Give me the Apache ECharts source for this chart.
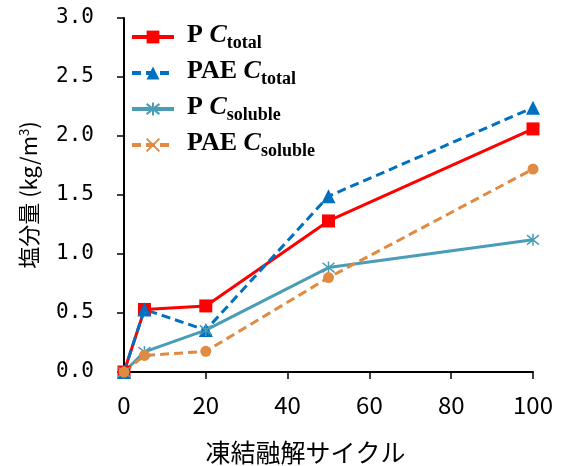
<!DOCTYPE html>
<html><head><meta charset="utf-8">
<script src="https://cdn.jsdelivr.net/npm/echarts@6/dist/echarts.min.js"></script>
<style>html,body{margin:0;padding:0;background:#fff}#c{width:562px;height:466px}</style>
</head><body><div id="c"></div>
<script>
var cycles = [0, 5, 20, 50, 100];
var pTotal = [0, 0.53, 0.56, 1.28, 2.06];
var paeTotal = [0, 0.53, 0.355, 1.49, 2.24];
var pSoluble = [0, 0.17, 0.355, 0.885, 1.12];
var paeSoluble = [0, 0.14, 0.175, 0.80, 1.72];
var xTicks = [0, 20, 40, 60, 80, 100];
var yTicks = [0, 0.5, 1.0, 1.5, 2.0, 2.5, 3.0];

function pairs(ys){ return cycles.map(function(x,i){ return [x, ys[i]]; }); }

var RED='#FF0000', BLUE='#0070C0', TEAL='#4A9DB6', ORANGE='#E08A42';
var starPath='path://M0,-10L0,10M-8,-8L8,8M-8,8L8,-8';
var xPath='path://M-8,-8L8,8M8,-8L-8,8';

var legendText = {
  'P Ctotal': '{p|P }{c|C}{s|total}',
  'PAE Ctotal': '{p|PAE }{c|C}{s|total}',
  'P Csoluble': '{p|P }{c|C}{s|soluble}',
  'PAE Csoluble': '{p|PAE }{c|C}{s|soluble}'
};

var chart = echarts.init(document.getElementById('c'));
chart.setOption({
  animation:false,
  grid:{left:124,right:29,top:18,bottom:94,containLabel:false,outerBoundsMode:'none'},
  legend:{
    orient:'vertical', left:130, top:22, padding:0, itemWidth:42, itemHeight:16, itemGap:6,
    lineStyle:{width:4},
    data:['P Ctotal','PAE Ctotal','P Csoluble','PAE Csoluble'],
    formatter:function(n){ return legendText[n]; },
    textStyle:{
      rich:{
        p:{fontFamily:'Liberation Serif',fontWeight:'bold',fontSize:26,color:'#000',padding:[0,0,0,8],verticalAlign:'top',lineHeight:30},
        c:{fontFamily:'Liberation Serif',fontWeight:'bold',fontStyle:'italic',fontSize:26,color:'#000',verticalAlign:'top',lineHeight:30},
        s:{fontFamily:'Liberation Serif',fontWeight:'bold',fontSize:18,color:'#000',verticalAlign:'bottom',lineHeight:30}
      }
    }
  },
  xAxis:{
    type:'value', min:0, max:100, interval:20,
    name:'凍結融解サイクル', nameLocation:'middle', nameGap:68,
    nameTextStyle:{fontFamily:'Noto Sans CJK JP',fontSize:25,color:'#000',padding:[0,46,0,0]},
    axisLine:{lineStyle:{color:'#000',width:2}},
    axisTick:{show:true,length:7,lineStyle:{color:'#000',width:1.5}},
    axisLabel:{fontFamily:'Noto Sans CJK JP',fontSize:24,color:'#000',margin:21,
      formatter:function(v){ return xTicks.indexOf(v)>=0 ? String(v) : ''; }},
    splitLine:{show:false}
  },
  yAxis:{
    type:'value', min:0, max:3, interval:0.5,
    name:'塩分量 (kg/m{sup|3})', nameLocation:'middle', nameGap:84, nameRotate:90,
    nameTextStyle:{fontFamily:'Noto Sans CJK JP',fontSize:22,color:'#000',
      rich:{sup:{fontFamily:'Noto Sans CJK JP',fontSize:13,color:'#000',verticalAlign:'top',lineHeight:22}}},
    axisLine:{show:true,lineStyle:{color:'#000',width:2}},
    axisTick:{show:true,length:7,lineStyle:{color:'#000',width:1.5}},
    axisLabel:{fontFamily:'DejaVu Sans Mono',fontSize:21,color:'#000',margin:30,
      formatter:function(v){ var t=yTicks.filter(function(k){return Math.abs(k-v)<1e-9;}); return t.length? t[0].toFixed(1):''; }},
    splitLine:{show:false}
  },
  series:[
    {name:'P Ctotal',type:'line',data:pairs(pTotal),symbol:'rect',symbolSize:13,
      lineStyle:{color:RED,width:3},itemStyle:{color:RED}},
    {name:'PAE Ctotal',type:'line',data:pairs(paeTotal),symbol:'triangle',symbolSize:14,
      lineStyle:{color:BLUE,width:3,type:[9,5]},itemStyle:{color:BLUE}},
    {name:'P Csoluble',type:'line',data:pairs(pSoluble),symbol:starPath,symbolSize:12,
      lineStyle:{color:TEAL,width:3},itemStyle:{color:'none',borderColor:TEAL,borderWidth:1.5}},
    {name:'PAE Csoluble data',type:'line',data:pairs(paeSoluble),symbol:'circle',symbolSize:11,
      lineStyle:{color:ORANGE,width:3,type:[9,5]},itemStyle:{color:ORANGE}},
    {name:'PAE Csoluble',type:'line',data:[],symbol:xPath,symbolSize:12,
      lineStyle:{color:ORANGE,width:3,type:[9,5]},itemStyle:{color:'none',borderColor:ORANGE,borderWidth:1.5}}
  ]
});
</script></body></html>
